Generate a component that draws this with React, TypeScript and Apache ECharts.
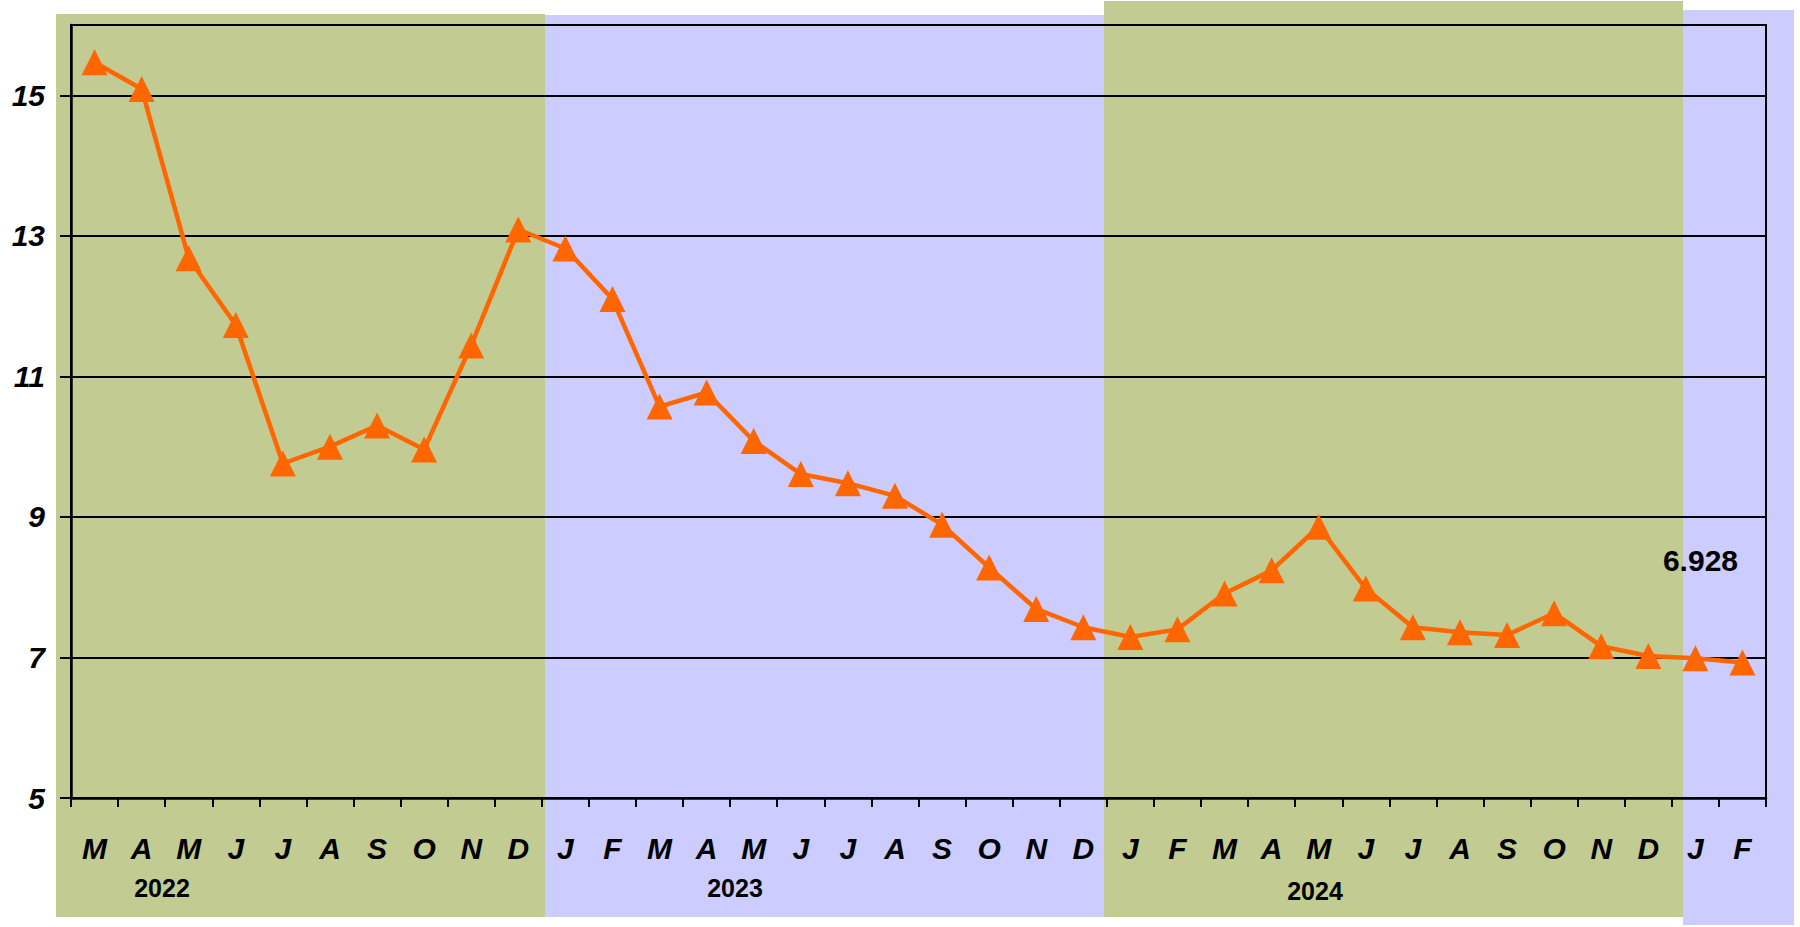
import React, { useEffect, useRef } from "react";
import * as echarts from "echarts";

const categories = [
  "Mar 2022", "Apr 2022", "May 2022", "Jun 2022", "Jul 2022", "Aug 2022", "Sep 2022", "Oct 2022", "Nov 2022", "Dec 2022",
  "Jan 2023", "Feb 2023", "Mar 2023", "Apr 2023", "May 2023", "Jun 2023", "Jul 2023", "Aug 2023", "Sep 2023", "Oct 2023", "Nov 2023", "Dec 2023",
  "Jan 2024", "Feb 2024", "Mar 2024", "Apr 2024", "May 2024", "Jun 2024", "Jul 2024", "Aug 2024", "Sep 2024", "Oct 2024", "Nov 2024", "Dec 2024",
  "Jan 2025", "Feb 2025",
];

const values2022 = [15.47, 15.09, 12.68, 11.73, 9.76, 10.0, 10.3, 9.96, 11.44, 13.09];
const values2023 = [12.82, 12.1, 10.57, 10.77, 10.08, 9.61, 9.48, 9.3, 8.89, 8.28, 7.69, 7.43];
const values2024 = [7.29, 7.4, 7.91, 8.24, 8.86, 7.98, 7.43, 7.36, 7.32, 7.63, 7.16, 7.02];
const values2025 = [6.99, 6.928];

const yTicks = [5, 7, 9, 11, 13, 15];
const yearLabels = ["2022", "2023", "2024"];

const GREEN = "#C2CC92";
const BLUE = "#CCCCFF";
const ORANGE = "#FF6600";
const FONT = '"Liberation Sans", Arial, sans-serif';

export default function App() {
  const ref = useRef<HTMLDivElement>(null);

  useEffect(() => {
    if (!ref.current) return;
    const chart = echarts.init(ref.current, null, { renderer: "svg" });
    const data = [...values2022, ...values2023, ...values2024, ...values2025];
    const lastIdx = data.length - 1;

    const seriesData = data.map((v, i) =>
      i === lastIdx
        ? {
            value: v,
            label: {
              show: true,
              position: "inside",
              offset: [-42, -102],
              formatter: (p: any) => String(p.value),
              color: "#000",
              fontFamily: FONT,
              fontWeight: "bold",
              fontSize: 30,
            },
          }
        : v
    );

    const bands = [
      { x: 56, y: 14, w: 489, h: 903, c: GREEN },
      { x: 545, y: 15, w: 560, h: 902, c: BLUE },
      { x: 1104, y: 1, w: 579, h: 916, c: GREEN },
      { x: 1683, y: 10, w: 111, h: 915, c: BLUE },
    ];
    const yearPos = [
      { x: 162, y: 888 },
      { x: 735, y: 888 },
      { x: 1315, y: 891 },
    ];

    chart.setOption({
      animation: false,
      backgroundColor: "#fff",
      grid: {
        left: 71,
        right: 34,
        top: 25,
        bottom: 129,
        show: true,
        borderColor: "#000",
        borderWidth: 2,
        backgroundColor: "transparent",
      },
      graphic: [
        ...bands.map((b) => ({
          type: "rect",
          z: -10,
          silent: true,
          shape: { x: b.x, y: b.y, width: b.w, height: b.h },
          style: { fill: b.c },
        })),
        ...yearLabels.map((t, i) => ({
          type: "text",
          z: 10,
          x: yearPos[i].x,
          y: yearPos[i].y,
          style: {
            text: t,
            fill: "#000",
            font: `bold 25px ${FONT}`,
            align: "center",
            verticalAlign: "middle",
          },
        })),
      ],
      xAxis: {
        type: "category",
        data: categories,
        boundaryGap: true,
        axisLine: { show: true, lineStyle: { color: "#000", width: 2.5 } },
        axisTick: {
          show: true,
          interval: 0,
          alignWithLabel: false,
          length: 9,
          lineStyle: { color: "#000", width: 2 },
        },
        axisLabel: {
          interval: 0,
          margin: 35,
          formatter: (v: string) => v.charAt(0),
          color: "#000",
          fontFamily: FONT,
          fontWeight: "bold",
          fontStyle: "italic",
          fontSize: 30,
        },
        splitLine: { show: false },
      },
      yAxis: {
        type: "value",
        min: 5,
        max: 16,
        axisLine: { show: true, lineStyle: { color: "#000", width: 2.5 } },
        axisTick: {
          show: true,
          length: 11,
          customValues: yTicks,
          lineStyle: { color: "#000", width: 2 },
        },
        axisLabel: {
          customValues: yTicks,
          margin: 26,
          color: "#000",
          fontFamily: FONT,
          fontWeight: "bold",
          fontStyle: "italic",
          fontSize: 30,
        },
        splitLine: { show: true, lineStyle: { color: "#000", width: 2 } },
      },
      series: [
        {
          type: "line",
          data: seriesData,
          symbol: "triangle",
          symbolSize: 26,
          lineStyle: { color: ORANGE, width: 4.5 },
          itemStyle: { color: ORANGE },
          z: 5,
        },
      ],
    });

    return () => chart.dispose();
  }, []);

  return (
    <div
      ref={ref}
      style={{ position: "absolute", left: 0, top: 0, width: 1800, height: 927 }}
    />
  );
}
